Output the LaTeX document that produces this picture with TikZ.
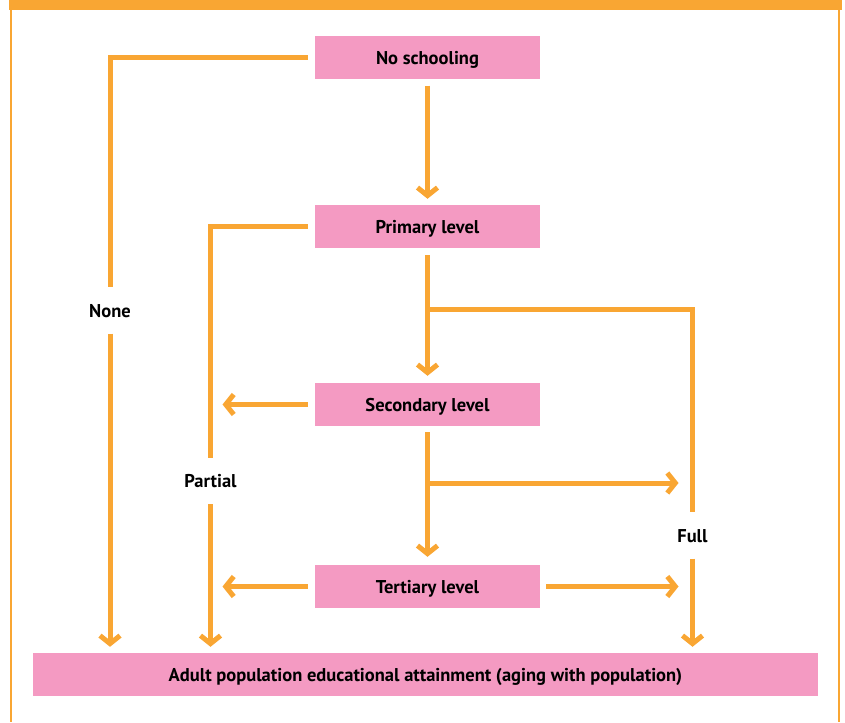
\documentclass[tikz,border=0pt]{standalone}
\usepackage{fontspec}
\setmainfont{PT Sans}
\usetikzlibrary{arrows.meta}
\definecolor{org}{RGB}{249,166,51}
\definecolor{pnk}{RGB}{244,154,194}
\tikzset{
  box/.style={fill=pnk, minimum width=225pt, minimum height=43pt, inner sep=0pt,
    text height=13pt, text depth=0pt,
    font=\bfseries\fontsize{18.5}{20}\selectfont},
  lbl/.style={inner sep=0pt, minimum height=46pt, text height=13pt, text depth=0pt,
    font=\bfseries\fontsize{18.5}{20}\selectfont},
  conn/.style={draw=org, line width=5pt},
  arr/.style={conn, -{Straight Barb[length=8pt,width=20pt]}}
}
\begin{document}
\begin{tikzpicture}[x=1pt,y=-1pt]
\useasboundingbox (0,0) rectangle (845,722);
% frame
\fill[org] (9,0) rectangle (842,10);
\draw[org, line width=2pt] (11,10) -- (11,722);
\draw[org, line width=2pt] (839,10) -- (839,722);
% boxes
\node[box] (ns) at (427.5,58) {No schooling};
\node[box] (pri) at (427.5,226.5) {Primary level};
\node[box] (sec) at (427.5,404.5) {Secondary level};
\node[box] (ter) at (427.5,586.5) {Tertiary level};
\node[box, minimum width=785pt] (ad) at (425.5,674.5) {Adult population educational attainment (aging with population)};
% labels
\node[lbl] (none) at (110,310.5) {None};
\node[lbl] (part) at (210.5,481) {Partial};
\node[lbl] (full) at (692.5,535.5) {Full};
% junctions
\coordinate (j1) at (427.5,309);
\coordinate (j2) at (427.5,483);
% connectors
\draw[conn, shorten <=7pt] (ns.west) -| (none.north);
\draw[arr, shorten >=6pt] (none.south) -- (none.south |- ad.north);
\draw[arr, shorten <=6pt, shorten >=6pt] (ns.south) -- (pri.north);
\draw[conn, shorten <=7pt] (pri.west) -| (part.north);
\draw[arr, shorten >=6pt] (part.south) -- (part.south |- ad.north);
\draw[arr, shorten <=7pt, shorten >=7pt] (pri.south) -- (sec.north);
\draw[conn] (j1) -| (full.north);
\draw[arr, shorten >=6pt] (full.south) -- (full.south |- ad.north);
\draw[arr, shorten <=7pt, shorten >=12pt] (sec.west) -- (sec.west -| part);
\draw[arr, shorten <=6pt, shorten >=8pt] (sec.south) -- (ter.north);
\draw[arr, shorten >=14pt] (j2) -- (j2 -| full);
\draw[arr, shorten <=7pt, shorten >=12pt] (ter.west) -- (ter.west -| part);
\draw[arr, shorten <=6pt, shorten >=14pt] (ter.east) -- (ter.east -| full);
\end{tikzpicture}
\end{document}
